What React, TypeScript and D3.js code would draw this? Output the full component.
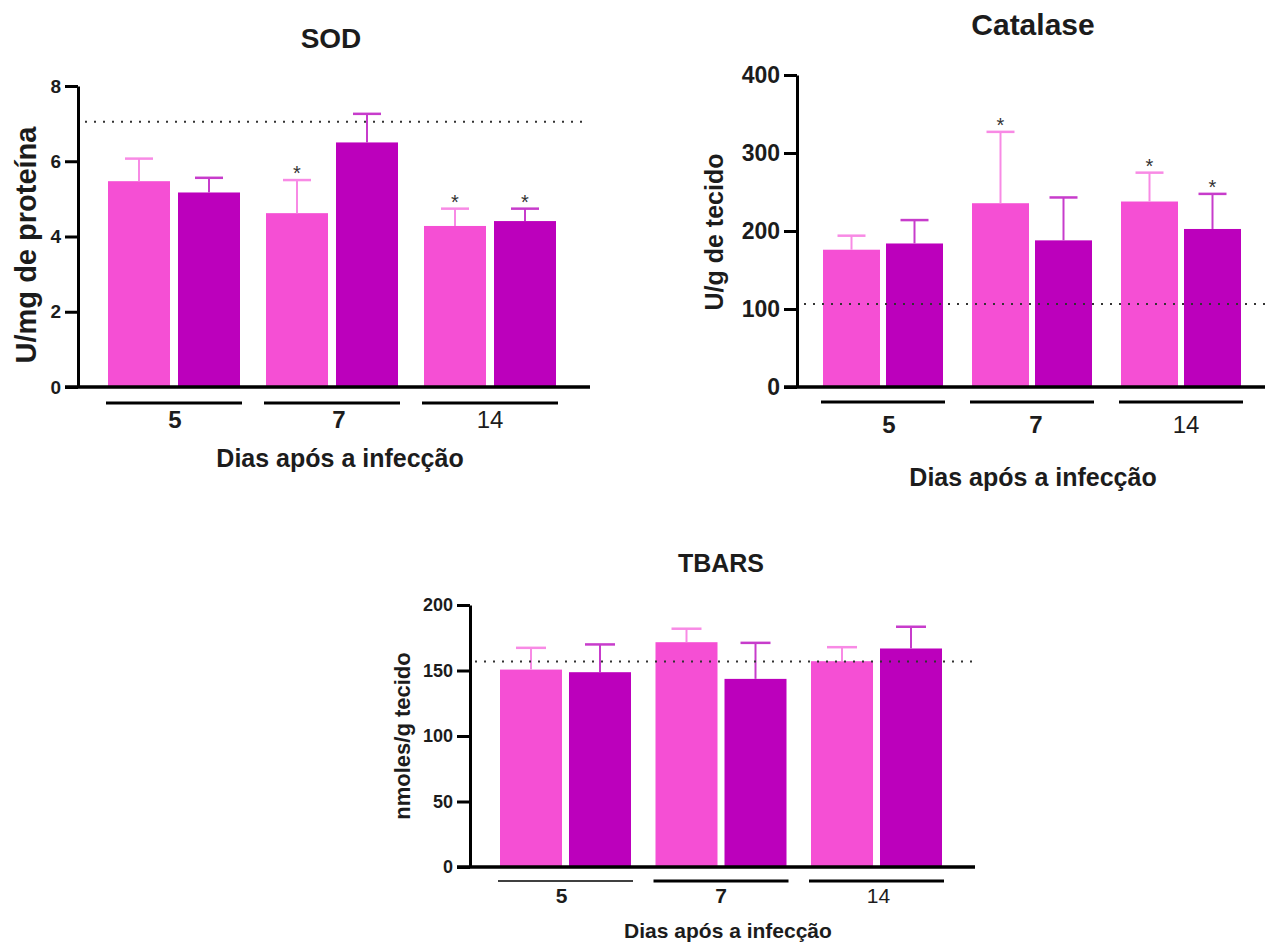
import React, { useEffect, useRef } from "react";
import * as d3 from "d3";

// groups on the x axis
const days = ["5", "7", "14"];
const series = ["a", "b"];

// SOD (U/mg de proteína)
const sodA = [5.47, 4.62, 4.28];
const sodAErr = [0.6, 0.88, 0.46];
const sodB = [5.17, 6.5, 4.41];
const sodBErr = [0.39, 0.76, 0.33];
const sodStarsA = [false, true, true];
const sodStarsB = [false, false, true];
const sodControl = 7.05;
const sodTicks = [0, 2, 4, 6, 8];

// Catalase (U/g de tecido)
const catA = [176, 235.6, 237.8];
const catAErr = [18, 91.5, 37];
const catB = [184, 188, 202.6];
const catBErr = [30, 55, 45];
const catStarsA = [false, true, true];
const catStarsB = [false, false, true];
const catControl = 106.4;
const catTicks = [0, 100, 200, 300, 400];

// TBARS (nmoles/g tecido)
const tbA = [150.7, 171.6, 157.1];
const tbAErr = [16.6, 10.3, 10.7];
const tbB = [148.7, 143.6, 166.8];
const tbBErr = [21.2, 27.5, 16.6];
const tbStarsA = [false, false, false];
const tbStarsB = [false, false, false];
const tbControl = 156.8;
const tbTicks = [0, 50, 100, 150, 200];

const barColors = ["#f54fd4", "#bc00bc"];
const errColors = ["#f88ae5", "#c73ccb"];
const ink = "#1c1c1c";
const font = "'Liberation Sans', Arial, sans-serif";

const panels = [
  {
    title: "SOD", yLabel: "U/mg de proteína", xLabel: "Dias após a infecção",
    a: sodA, aErr: sodAErr, b: sodB, bErr: sodBErr, starsA: sodStarsA, starsB: sodStarsB,
    control: sodControl, ticks: sodTicks,
    axisX: 78, y0: 387, yTop: 86, baseEnd: 590, ctrlStart: 85, ctrlEnd: 588,
    firstBar: 108, step: 158, barW: 62, gap: 8, capW: 28,
    tickFs: 19, titleX: 331, titleY: 48, titleFs: 28,
    yLabX: 36, yLabY: 245, yLabFs: 29,
    xLabX: 340, xLabY: 467, xLabFs: 25,
    groupY: 428, groupFs: 24, groupDx: [1, 7, 0], subY: 403, subW: [3, 3, 3],
  },
  {
    title: "Catalase", yLabel: "U/g de tecido", xLabel: "Dias após a infecção",
    a: catA, aErr: catAErr, b: catB, bErr: catBErr, starsA: catStarsA, starsB: catStarsB,
    control: catControl, ticks: catTicks,
    axisX: 797, y0: 387, yTop: 75, baseEnd: 1265, ctrlStart: 804, ctrlEnd: 1265,
    firstBar: 823, step: 149, barW: 57, gap: 6, capW: 28,
    tickFs: 23, titleX: 1033, titleY: 35, titleFs: 30,
    yLabX: 723, yLabY: 232, yLabFs: 25,
    xLabX: 1033, xLabY: 486, xLabFs: 25,
    groupY: 433, groupFs: 24, groupDx: [6, 4, 5], subY: 402, subW: [3, 3, 3],
  },
  {
    title: "TBARS", yLabel: "nmoles/g tecido", xLabel: "Dias após a infecção",
    a: tbA, aErr: tbAErr, b: tbB, bErr: tbBErr, starsA: tbStarsA, starsB: tbStarsB,
    control: tbControl, ticks: tbTicks,
    axisX: 470, y0: 867, yTop: 605, baseEnd: 975, ctrlStart: 475, ctrlEnd: 975,
    firstBar: 500, step: 155.5, barW: 62, gap: 7, capW: 30,
    tickFs: 18, titleX: 721, titleY: 572, titleFs: 25,
    yLabX: 410, yLabY: 736, yLabFs: 22,
    xLabX: 728, xLabY: 938, xLabFs: 21,
    groupY: 903, groupFs: 21, groupDx: [-4, 0, 2], subY: 881, subW: [1.5, 3, 3],
  },
];

const groupWeights = ["bold", "bold", "normal"];

function drawPanel(root, p) {
  const g = root.append("g").attr("font-family", font);

  const y = d3.scaleLinear()
    .domain([0, p.ticks[p.ticks.length - 1]])
    .range([p.y0, p.yTop]);

  const pair = 2 * p.barW + p.gap;
  const pad = (p.step - pair) / p.step;
  const start = p.firstBar - (p.step - pair) / 2;
  const x = d3.scaleBand()
    .domain(days)
    .range([start, start + 3 * p.step])
    .paddingInner(pad)
    .paddingOuter(pad / 2);
  const xi = d3.scaleBand()
    .domain(series)
    .range([0, pair])
    .paddingInner(p.gap / (p.barW + p.gap));

  const rows = days.flatMap((d, i) => [
    { day: d, s: 0, v: p.a[i], e: p.aErr[i], star: p.starsA[i] },
    { day: d, s: 1, v: p.b[i], e: p.bErr[i], star: p.starsB[i] },
  ]);

  // bars
  g.selectAll("rect.bar").data(rows).join("rect")
    .attr("class", "bar")
    .attr("x", d => x(d.day) + xi(series[d.s]))
    .attr("width", xi.bandwidth())
    .attr("y", d => y(d.v))
    .attr("height", d => y(0) - y(d.v))
    .attr("fill", d => barColors[d.s]);

  // error bars (upper only)
  const cx = d => x(d.day) + xi(series[d.s]) + xi.bandwidth() / 2;
  g.selectAll("line.err").data(rows).join("line")
    .attr("x1", cx).attr("x2", cx)
    .attr("y1", d => y(d.v)).attr("y2", d => y(d.v + d.e))
    .attr("stroke", d => errColors[d.s]).attr("stroke-width", 2);
  g.selectAll("line.cap").data(rows).join("line")
    .attr("x1", d => cx(d) - p.capW / 2).attr("x2", d => cx(d) + p.capW / 2)
    .attr("y1", d => y(d.v + d.e)).attr("y2", d => y(d.v + d.e))
    .attr("stroke", d => errColors[d.s]).attr("stroke-width", 2.5);

  // significance marks
  g.selectAll("text.star").data(rows.filter(d => d.star)).join("text")
    .attr("x", cx)
    .attr("y", d => y(d.v + d.e))
    .attr("text-anchor", "middle")
    .attr("font-size", 20)
    .attr("fill", "#333")
    .text("*");

  // control level
  g.append("line")
    .attr("x1", p.ctrlStart).attr("x2", p.ctrlEnd)
    .attr("y1", y(p.control)).attr("y2", y(p.control))
    .attr("stroke", "#333").attr("stroke-width", 2)
    .attr("stroke-dasharray", "2,7");

  // y axis
  const ax = g.append("g")
    .attr("transform", `translate(${p.axisX},0)`)
    .call(d3.axisLeft(y).tickValues(p.ticks).tickSize(13).tickSizeOuter(0).tickPadding(4));
  ax.select(".domain").attr("stroke", "#000").attr("stroke-width", 3);
  ax.selectAll(".tick line").attr("stroke", "#000").attr("stroke-width", 3);
  ax.selectAll(".tick text")
    .attr("font-family", font)
    .attr("font-size", p.tickFs)
    .attr("font-weight", "bold")
    .attr("fill", ink);

  // baseline
  g.append("line")
    .attr("x1", p.axisX - 13).attr("x2", p.baseEnd)
    .attr("y1", y(0)).attr("y2", y(0))
    .attr("stroke", "#000").attr("stroke-width", 3.5);

  // group lines and labels
  days.forEach((d, i) => {
    g.append("line")
      .attr("x1", x(d) - 2).attr("x2", x(d) + x.bandwidth() + 2)
      .attr("y1", p.subY).attr("y2", p.subY)
      .attr("stroke", "#000").attr("stroke-width", p.subW[i]);
    g.append("text")
      .attr("x", x(d) + x.bandwidth() / 2 + p.groupDx[i])
      .attr("y", p.groupY)
      .attr("text-anchor", "middle")
      .attr("font-size", p.groupFs)
      .attr("font-weight", groupWeights[i])
      .attr("fill", ink)
      .text(d);
  });

  g.append("text")
    .attr("x", p.titleX).attr("y", p.titleY)
    .attr("text-anchor", "middle")
    .attr("font-size", p.titleFs).attr("font-weight", "bold")
    .attr("fill", ink).text(p.title);

  g.append("text")
    .attr("x", p.xLabX).attr("y", p.xLabY)
    .attr("text-anchor", "middle")
    .attr("font-size", p.xLabFs).attr("font-weight", "bold")
    .attr("fill", ink).text(p.xLabel);

  g.append("text")
    .attr("transform", `translate(${p.yLabX},${p.yLabY}) rotate(-90)`)
    .attr("text-anchor", "middle")
    .attr("font-size", p.yLabFs).attr("font-weight", "bold")
    .attr("fill", ink).text(p.yLabel);
}

const App = () => {
  const ref = useRef(null);

  useEffect(() => {
    const svg = d3.select(ref.current);
    svg.selectAll("*").remove();
    const root = svg.append("g");
    panels.forEach(p => drawPanel(root, p));
    return () => {
      svg.selectAll("*").remove();
    };
  }, []);

  return (
    <svg
      ref={ref}
      width={1265}
      height={945}
      style={{ position: "absolute", left: 0, top: 0, background: "#fff" }}
    />
  );
};

export default App;
